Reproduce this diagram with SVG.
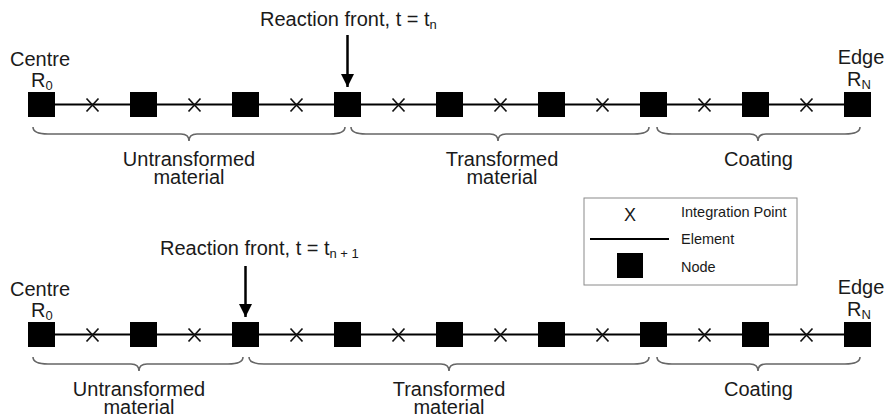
<svg xmlns="http://www.w3.org/2000/svg" width="886" height="417" viewBox="0 0 886 417">
  <defs>
    <style>
      text { font-family: "Liberation Sans", Arial, sans-serif; fill: #1a1a1a; }
      .lbl { font-size: 20px; }
      .mid { text-anchor: middle; }
      .leg { font-size: 14.5px; }
      .node { fill: #000; }
      .elem { stroke: #000; stroke-width: 2; fill: none; }
      .ip { stroke: #111; stroke-width: 1.7; fill: none; }
      .brace { stroke: #666; stroke-width: 1.6; fill: none; }
      .front { stroke: #000; stroke-width: 2.5; }
    </style>
    <marker id="head" viewBox="0 0 10 10" refX="10" refY="5" markerWidth="5.2" markerHeight="5.2" orient="auto" markerUnits="strokeWidth">
      <path d="M0,0 L10,5 L0,10 Z" fill="#000"/>
    </marker>
    <path id="cross" class="ip" d="M-6,-6.5 L6,6.5 M-6,6.5 L6,-6.5"/>
    <rect id="sq" class="node" x="-13.5" y="-12.5" width="27" height="25"/>
  </defs>

  <!-- ===== Upper mesh: reaction front at time t_n ===== -->
  <g id="mesh-tn">
    <g id="elements-tn">
      <line class="elem" x1="41.5" y1="104.5" x2="857.5" y2="104.5"/>
    </g>
    <g id="ips-tn">
      <use href="#cross" x="92.5" y="105"/>
      <use href="#cross" x="194.5" y="105"/>
      <use href="#cross" x="296.5" y="105"/>
      <use href="#cross" x="398.5" y="105"/>
      <use href="#cross" x="500.5" y="105"/>
      <use href="#cross" x="602.5" y="105"/>
      <use href="#cross" x="704.5" y="105"/>
      <use href="#cross" x="806.5" y="105"/>
    </g>
    <g id="n0-tn"><use href="#sq" x="41.5" y="104.5"/></g>
    <g id="n1-tn"><use href="#sq" x="143.5" y="104.5"/></g>
    <g id="n2-tn"><use href="#sq" x="245.5" y="104.5"/></g>
    <g id="n3-tn"><use href="#sq" x="347.5" y="104.5"/></g>
    <g id="n4-tn"><use href="#sq" x="449.5" y="104.5"/></g>
    <g id="n5-tn"><use href="#sq" x="551.5" y="104.5"/></g>
    <g id="n6-tn"><use href="#sq" x="653.5" y="104.5"/></g>
    <g id="n7-tn"><use href="#sq" x="755.5" y="104.5"/></g>
    <g id="n8-tn"><use href="#sq" x="857.5" y="104.5"/></g>

    <g id="ends-tn">
      <text class="lbl mid" x="40" y="66">Centre</text>
      <text class="lbl" x="31" y="87">R<tspan font-size="13" dy="3">0</tspan></text>
      <text class="lbl mid" x="861" y="64">Edge</text>
      <text class="lbl" x="847" y="86">R<tspan font-size="13" dy="3">N</tspan></text>
    </g>

    <g id="front-tn">
      <text class="lbl" x="260" y="26">Reaction front, t = t<tspan font-size="13" dy="3">n</tspan></text>
      <line class="front" x1="347.5" y1="35" x2="347.5" y2="87" marker-end="url(#head)"/>
    </g>

    <g id="regions-tn">
      <path class="brace" d="M33,127 Q33,134 48,134 L181,134 Q189,134 189,141 Q189,134 197,134 L330,134 Q345,134 345,127"/>
      <text class="lbl mid" x="189" y="166">Untransformed<tspan x="189" dy="18">material</tspan></text>
      <path class="brace" d="M351,127 Q351,134 366,134 L490,134 Q498,134 498,141 Q498,134 506,134 L634,134 Q649,134 649,127"/>
      <text class="lbl mid" x="502" y="166">Transformed<tspan x="502" dy="18">material</tspan></text>
      <path class="brace" d="M657,127 Q657,134 672,134 L750,134 Q758,134 758,141 Q758,134 766,134 L845,134 Q860,134 860,127"/>
      <text class="lbl mid" x="758.5" y="166">Coating</text>
    </g>
  </g>

  <!-- ===== Legend ===== -->
  <g id="legend">
    <rect x="584" y="198" width="213" height="87" fill="#fff" stroke="#8a8a8a" stroke-width="1"/>
    <text class="mid" x="630" y="220.5" font-size="18">X</text>
    <text class="leg" x="681" y="217">Integration Point</text>
    <line class="elem" x1="590" y1="239" x2="669" y2="239"/>
    <text class="leg" x="681" y="244">Element</text>
    <rect class="node" x="617" y="253" width="26" height="25"/>
    <text class="leg" x="681" y="272">Node</text>
  </g>

  <!-- ===== Lower mesh: reaction front at time t_n+1 ===== -->
  <g id="mesh-tn1">
    <g id="elements-tn1">
      <line class="elem" x1="41.5" y1="334.5" x2="857.5" y2="334.5"/>
    </g>
    <g id="ips-tn1">
      <use href="#cross" x="92.5" y="335"/>
      <use href="#cross" x="194.5" y="335"/>
      <use href="#cross" x="296.5" y="335"/>
      <use href="#cross" x="398.5" y="335"/>
      <use href="#cross" x="500.5" y="335"/>
      <use href="#cross" x="602.5" y="335"/>
      <use href="#cross" x="704.5" y="335"/>
      <use href="#cross" x="806.5" y="335"/>
    </g>
    <g id="n0-tn1"><use href="#sq" x="41.5" y="334.5"/></g>
    <g id="n1-tn1"><use href="#sq" x="143.5" y="334.5"/></g>
    <g id="n2-tn1"><use href="#sq" x="245.5" y="334.5"/></g>
    <g id="n3-tn1"><use href="#sq" x="347.5" y="334.5"/></g>
    <g id="n4-tn1"><use href="#sq" x="449.5" y="334.5"/></g>
    <g id="n5-tn1"><use href="#sq" x="551.5" y="334.5"/></g>
    <g id="n6-tn1"><use href="#sq" x="653.5" y="334.5"/></g>
    <g id="n7-tn1"><use href="#sq" x="755.5" y="334.5"/></g>
    <g id="n8-tn1"><use href="#sq" x="857.5" y="334.5"/></g>

    <g id="ends-tn1">
      <text class="lbl mid" x="40" y="296">Centre</text>
      <text class="lbl" x="31" y="317">R<tspan font-size="13" dy="3">0</tspan></text>
      <text class="lbl mid" x="861" y="294">Edge</text>
      <text class="lbl" x="847" y="316">R<tspan font-size="13" dy="3">N</tspan></text>
    </g>

    <g id="front-tn1">
      <text class="lbl" x="160" y="255">Reaction front, t = t<tspan font-size="13" dy="3">n + 1</tspan></text>
      <line class="front" x1="245.5" y1="266" x2="245.5" y2="317" marker-end="url(#head)"/>
    </g>

    <g id="regions-tn1">
      <path class="brace" d="M33,357 Q33,364 48,364 L131,364 Q139,364 139,371 Q139,364 147,364 L228,364 Q243,364 243,357"/>
      <text class="lbl mid" x="139" y="396">Untransformed<tspan x="139" dy="18">material</tspan></text>
      <path class="brace" d="M249,357 Q249,364 264,364 L441,364 Q449,364 449,371 Q449,364 457,364 L634,364 Q649,364 649,357"/>
      <text class="lbl mid" x="449" y="396">Transformed<tspan x="449" dy="18">material</tspan></text>
      <path class="brace" d="M657,357 Q657,364 672,364 L750,364 Q758,364 758,371 Q758,364 766,364 L845,364 Q860,364 860,357"/>
      <text class="lbl mid" x="758.5" y="396">Coating</text>
    </g>
  </g>
</svg>
